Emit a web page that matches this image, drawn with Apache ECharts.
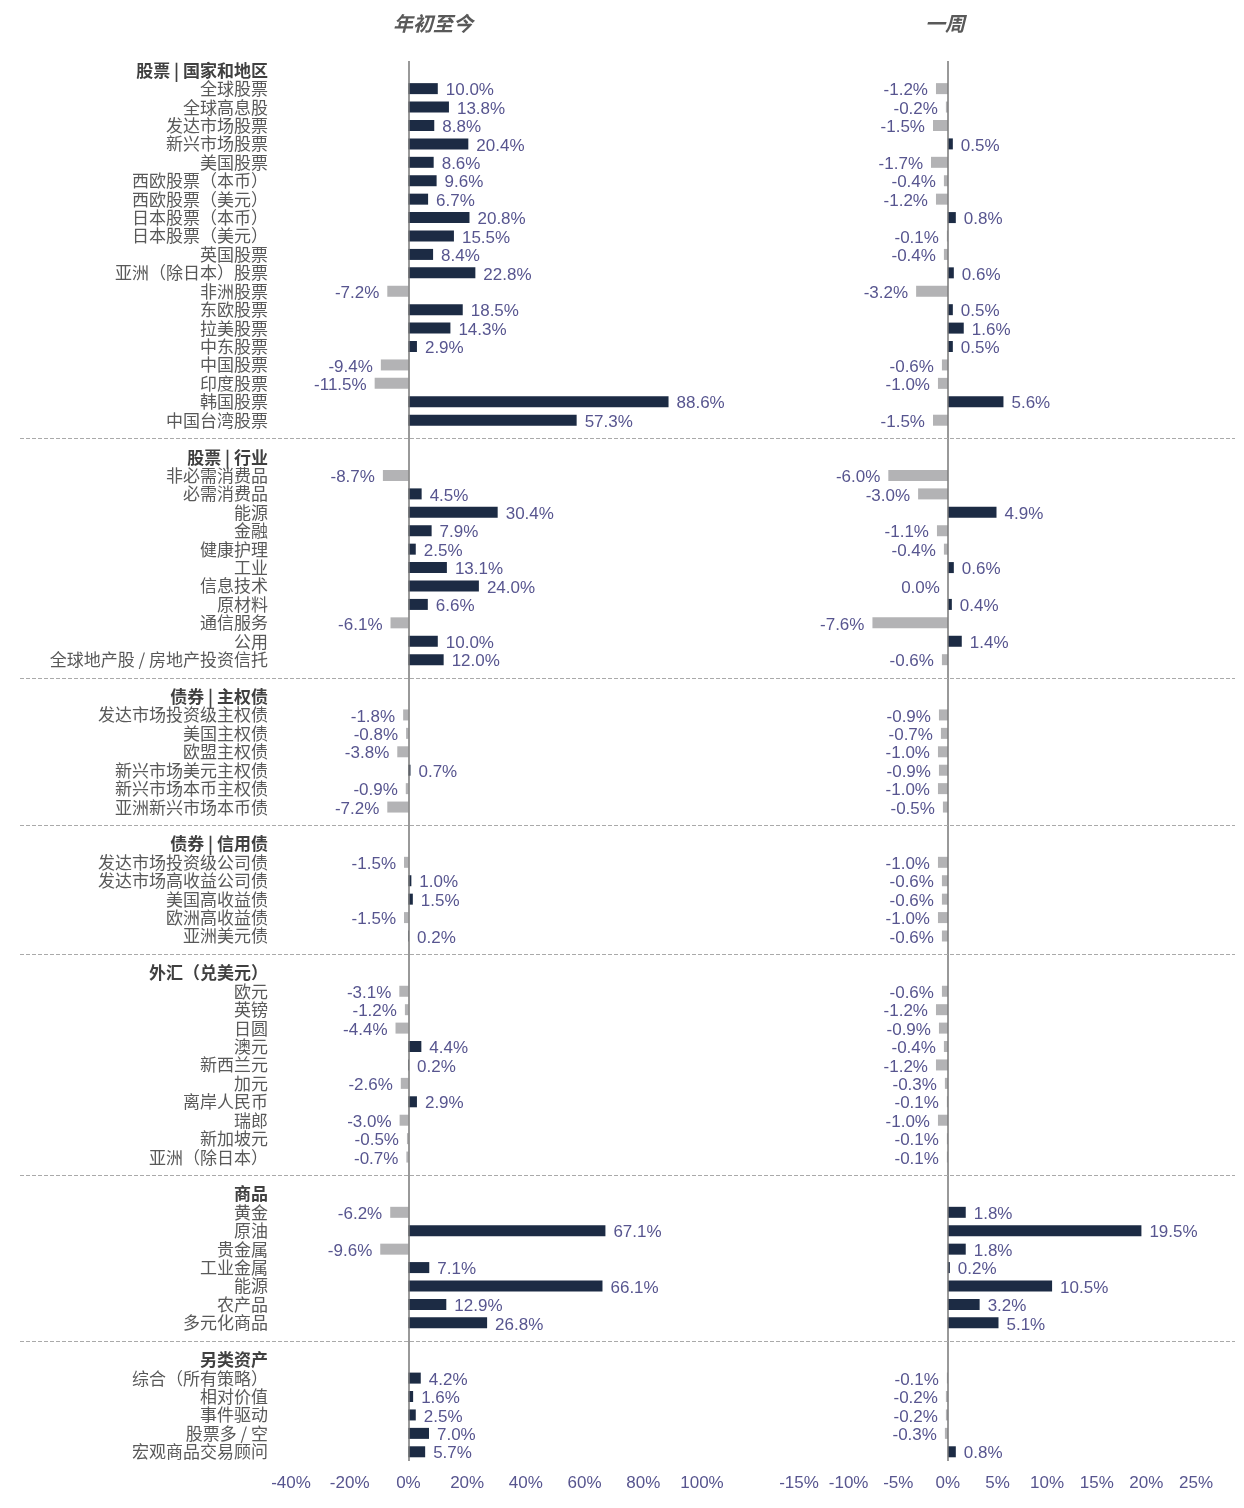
<!DOCTYPE html>
<html><head><meta charset="utf-8">
<script src="https://cdn.jsdelivr.net/npm/echarts@6/dist/echarts.min.js"></script>
<style>html,body{margin:0;padding:0;background:#fff}#c{width:1244px;height:1508px}</style>
</head><body><div id="c"></div>
<script>
const groupHeaders = ['股票 | 国家和地区','股票 | 行业','债券 | 主权债','债券 | 信用债','外汇（兑美元）','商品','另类资产'];
const groupCats = [
 ['全球股票','全球高息股','发达市场股票','新兴市场股票','美国股票','西欧股票（本币）','西欧股票（美元）','日本股票（本币）','日本股票（美元）','英国股票','亚洲（除日本）股票','非洲股票','东欧股票','拉美股票','中东股票','中国股票','印度股票','韩国股票','中国台湾股票'],
 ['非必需消费品','必需消费品','能源','金融','健康护理','工业','信息技术','原材料','通信服务','公用','全球地产股 / 房地产投资信托'],
 ['发达市场投资级主权债','美国主权债','欧盟主权债','新兴市场美元主权债','新兴市场本币主权债','亚洲新兴市场本币债'],
 ['发达市场投资级公司债','发达市场高收益公司债','美国高收益债','欧洲高收益债','亚洲美元债'],
 ['欧元','英镑','日圆','澳元','新西兰元','加元','离岸人民币','瑞郎','新加坡元','亚洲（除日本）'],
 ['黄金','原油','贵金属','工业金属','能源','农产品','多元化商品'],
 ['综合（所有策略）','相对价值','事件驱动','股票多 / 空','宏观商品交易顾问']
];
const ytdValues = [
 [10.0,13.8,8.8,20.4,8.6,9.6,6.7,20.8,15.5,8.4,22.8,-7.2,18.5,14.3,2.9,-9.4,-11.5,88.6,57.3],
 [-8.7,4.5,30.4,7.9,2.5,13.1,24.0,6.6,-6.1,10.0,12.0],
 [-1.8,-0.8,-3.8,0.7,-0.9,-7.2],
 [-1.5,1.0,1.5,-1.5,0.2],
 [-3.1,-1.2,-4.4,4.4,0.2,-2.6,2.9,-3.0,-0.5,-0.7],
 [-6.2,67.1,-9.6,7.1,66.1,12.9,26.8],
 [4.2,1.6,2.5,7.0,5.7]
];
const weekValues = [
 [-1.2,-0.2,-1.5,0.5,-1.7,-0.4,-1.2,0.8,-0.1,-0.4,0.6,-3.2,0.5,1.6,0.5,-0.6,-1.0,5.6,-1.5],
 [-6.0,-3.0,4.9,-1.1,-0.4,0.6,0.0,0.4,-7.6,1.4,-0.6],
 [-0.9,-0.7,-1.0,-0.9,-1.0,-0.5],
 [-1.0,-0.6,-0.6,-1.0,-0.6],
 [-0.6,-1.2,-0.9,-0.4,-1.2,-0.3,-0.1,-1.0,-0.1,-0.1],
 [1.8,19.5,1.8,0.2,10.5,3.2,5.1],
 [-0.1,-0.2,-0.2,-0.3,0.8]
];
const ytdTicks = {min:-40,max:100,interval:20};
const weekTicks = {min:-15,max:25,interval:5};

const NAVY='#1c2b44', GREY='#b3b3b5', TXT='#595959', VAL='#57558f';
const cats=[], ytd=[], wk=[], seps=[], headerSet=new Set(groupHeaders);
groupHeaders.forEach((h,g)=>{
  if(g>0){const s='_sep'+g; cats.push(s); seps.push(s); ytd.push('-'); wk.push('-');}
  cats.push(h); ytd.push('-'); wk.push('-');
  groupCats[g].forEach((c,i)=>{cats.push(c); ytd.push(ytdValues[g][i]); wk.push(weekValues[g][i]);});
});
function items(arr){return arr.map(v=>v==='-'?'-':{value:v,itemStyle:{color:v>0?NAVY:GREY},label:{position:v>0?'right':'left'}});}
const grids=[{left:291,right:542,top:61,height:1400},{left:799,right:48,top:61,height:1400},{left:20,right:9,top:61,height:1400}];
function yAx(idx,show){return {type:'category',gridIndex:idx,data:cats,inverse:true,show:show,
  axisLine:{show:false},axisTick:{show:false},
  axisLabel:{show:show,interval:0,margin:23,color:TXT,fontSize:17,fontFamily:'Noto Sans CJK SC',lineHeight:18,
    formatter:v=>v.startsWith('_sep')?'':(headerSet.has(v)?'{h|'+v+'}':v),
    rich:{h:{fontWeight:'bold',color:'#404040',fontSize:17,fontFamily:'Noto Sans CJK SC'}}}};}
function xAx(idx,t){return Object.assign({type:'value',gridIndex:idx,splitLine:{show:false},axisLine:{show:false},axisTick:{show:false},
  axisLabel:{color:VAL,fontSize:17,fontFamily:'Liberation Sans',formatter:'{value}%',margin:14}},t);}
const lbl={show:true,distance:8,color:VAL,fontSize:17,fontFamily:'Liberation Sans',offset:[0,2],formatter:p=>p.value.toFixed(1)+'%'};
const zeroLine={silent:true,symbol:'none',label:{show:false},lineStyle:{color:'#777',type:'solid',width:1.5},data:[{xAxis:0}]};
const opt={animation:false,
 title:[{text:'年初至今',left:428,top:8,textAlign:'center',textStyle:{fontSize:20,fontStyle:'italic',fontWeight:'bold',color:TXT,fontFamily:'Noto Sans CJK SC'}},
        {text:'一周',left:940,top:8,textAlign:'center',textStyle:{fontSize:20,fontStyle:'italic',fontWeight:'bold',color:TXT,fontFamily:'Noto Sans CJK SC'}}],
 grid:grids,
 xAxis:[xAx(0,ytdTicks),xAx(1,weekTicks),{type:'value',gridIndex:2,show:false,min:0,max:1}],
 yAxis:[yAx(0,true),yAx(1,false),yAx(2,false)],
 series:[
  {type:'bar',xAxisIndex:0,yAxisIndex:0,data:items(ytd),barWidth:11,label:lbl,markLine:zeroLine},
  {type:'bar',xAxisIndex:1,yAxisIndex:1,data:items(wk),barWidth:11,label:lbl,markLine:zeroLine},
  {type:'bar',xAxisIndex:2,yAxisIndex:2,data:[],markLine:{silent:true,symbol:'none',label:{show:false},
    lineStyle:{color:'#aaa',type:'dashed',width:1},data:seps.map(s=>({yAxis:s}))}}
 ]};
echarts.init(document.getElementById('c')).setOption(opt);
</script></body></html>
